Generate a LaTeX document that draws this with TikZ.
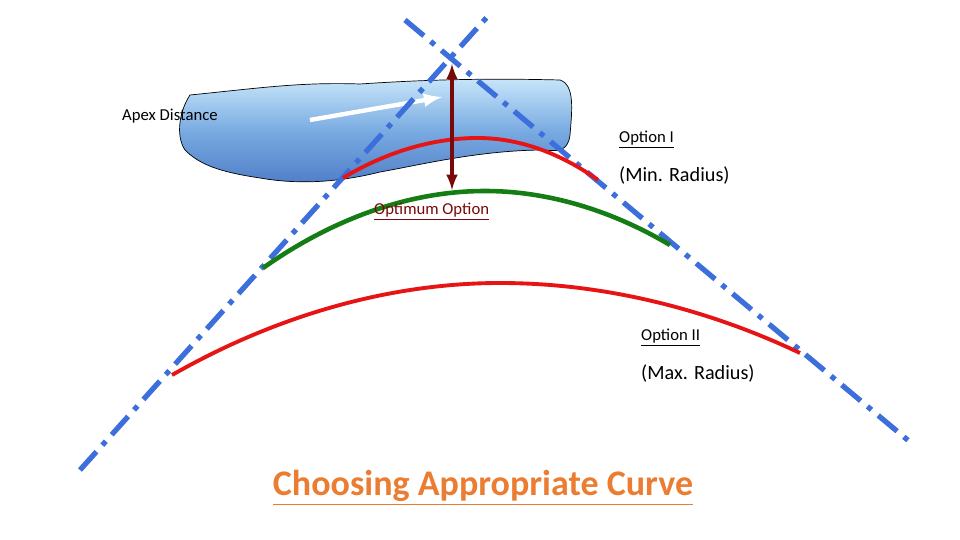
\documentclass[tikz,border=0pt]{standalone}
\usepackage{fontspec}
\setmainfont{Carlito}
\definecolor{tblue}{RGB}{60,110,220}
\definecolor{cred}{RGB}{230,20,20}
\definecolor{cgreen}{RGB}{20,125,20}
\definecolor{dred}{RGB}{120,10,10}
\definecolor{lk1}{RGB}{200,230,250}
\definecolor{lk2}{RGB}{120,170,225}
\definecolor{lk3}{RGB}{80,125,200}
\definecolor{torange}{RGB}{235,125,50}
\begin{document}
\begin{tikzpicture}[x=0.02cm,y=-0.02cm,
  tang/.style={draw=tblue,line width=3pt,dash pattern=on 14pt off 5pt on 3pt off 5pt},
  curvred/.style={draw=cred,line width=2.2pt},
  curvgreen/.style={draw=cgreen,line width=2.6pt},
  lbl/.style={font=\fontsize{9.5}{11}\selectfont,text=black}]
\useasboundingbox (0,0) rectangle (960,540);
% lake
\path[draw=black,line width=0.4pt,top color=lk1,bottom color=lk3,middle color=lk2]
 (190,95) .. controls (260,88) and (300,82) .. (360,84)
 .. controls (420,80) and (480,78) .. (560,80)
 .. controls (575,85) and (572,110) .. (570,135)
 .. controls (568,150) and (560,152) .. (545,150)
 .. controls (480,150) and (420,165) .. (380,172)
 .. controls (340,182) and (300,185) .. (260,178)
 .. controls (220,172) and (200,165) .. (185,150)
 .. controls (175,135) and (180,110) .. (190,95) -- cycle;
\coordinate (wa) at (310,120); \coordinate (wb) at (442,97);
\draw[white,line width=2.5pt,-latex] (wa) -- (wb);
% tangents
\coordinate (l1) at (80,470); \coordinate (l2) at (488,16);
\coordinate (r1) at (405,20); \coordinate (r2) at (910,442);
\draw[tang] (l1) -- (l2);
\draw[tang] (r1) -- (r2);
% curves
\coordinate (a1) at (343,178); \coordinate (b1) at (478,138); \coordinate (c1) at (598,180);
\draw[curvred] (a1) parabola bend (b1) (c1);
\coordinate (a2) at (263,268); \coordinate (b2) at (485,191); \coordinate (c2) at (670,245);
\draw[curvgreen] (a2) parabola bend (b2) (c2);
\coordinate (a3) at (172,375); \coordinate (b3) at (500,283); \coordinate (c3) at (800,353);
\draw[curvred] (a3) parabola bend (b3) (c3);
% apex arrow
\coordinate (p1) at (452,64); \coordinate (p2) at (452,190);
\draw[dred,line width=2pt,latex-latex] (p1) -- (p2);
% labels
\node[lbl,anchor=west] (apex) at (116,116) {Apex Distance};
\node[lbl,anchor=west] (o1) at (613,140) {\underline{Option I}};
\node[lbl,anchor=west,font=\fontsize{11.5}{13}\selectfont] (m1) at (613,176) {(Min. Radius)};
\node[lbl,anchor=west,text=dred] (oo) at (368,212) {\underline{Optimum Option}};
\node[lbl,anchor=west] (o2) at (635,338) {\underline{Option II}};
\node[lbl,anchor=west,font=\fontsize{11.5}{13}\selectfont] (m2) at (635,374) {(Max. Radius)};
\node[font=\bfseries\fontsize{20.5}{24}\selectfont,text=torange] (t) at (483,488) {\underline{Choosing Appropriate Curve}};
\end{tikzpicture}
\end{document}
